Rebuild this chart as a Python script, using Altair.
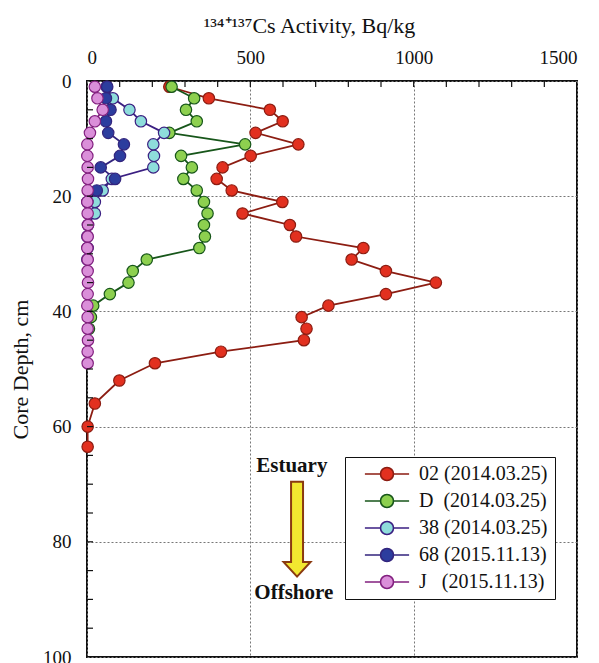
import altair as alt
import pandas as pd

# ---------------- data ----------------
series_names = ["02 (2014.03.25)", "D\u00a0\u00a0(2014.03.25)", "38 (2014.03.25)",
                "68 (2015.11.13)", "J\u00a0\u00a0\u00a0(2015.11.13)"]

depth_02 = [1, 3, 5, 7, 9, 11, 13, 15, 17, 19, 21, 23, 25, 27, 29, 31, 33, 35, 37, 39,
            41, 43, 45, 47, 49, 52, 56, 60, 63.5]
act_02 = [252, 373, 560, 599, 516, 647, 501, 415, 397, 443, 598, 476, 621, 640, 846, 810,
          915, 1068, 915, 739, 657, 672, 664, 410, 208, 99, 24, 2, 2]

depth_D = [1, 3, 5, 7, 9, 11, 13, 15, 17, 19, 21, 23, 25, 27, 29, 31, 33, 35, 37, 39, 41, 43]
act_D = [259, 328, 303, 336, 252, 484, 288, 321, 295, 336, 358, 369, 358, 361, 344, 183,
         140, 127, 70, 19, 12, 6]

depth_38 = [1, 3, 5, 7, 9, 11, 13, 15, 17, 19, 21, 23, 25, 27, 29, 31]
act_38 = [60, 79, 130, 165, 236, 203, 205, 203, 76, 48, 24, 24, 3, 1, 2, 1]

depth_68 = [1, 3, 5, 7, 9, 11, 13, 15, 17, 19, 21]
act_68 = [62, 58, 72, 58, 65, 113, 101, 42, 86, 30, 1]

depth_J = [1, 3, 5, 7, 9, 11, 13, 15, 17, 19, 21, 23, 25, 27, 29, 31, 33, 35, 37, 39, 41,
           43, 45, 47, 49]
act_J = [24, 32, 48, 24, 9, 1, 1, 2, 3, 2, 1, 2, 3, 2, 1, 2, 2, 3, 2, 1, 2, 2, 3, 2, 2]

fill_colors = ["#E2301F", "#8DD04F", "#8EDDDB", "#2C3D9E", "#DA8FD9"]
line_colors = ["#8C1D12", "#17561A", "#3B1F82", "#33257E", "#82207F"]

x_ticks = [100, 200, 300, 400, 500, 600, 700, 800, 900, 1000, 1100, 1200, 1300, 1400]
y_ticks = [5, 10, 15, 20, 25, 30, 35, 40, 45, 50, 55, 60, 65, 70, 75, 80, 85, 90, 95]
x_labels = [0, 500, 1000, 1500]
y_labels = [0, 20, 40, 60, 80, 100]

notes_text = ["Estuary", "Offshore"]
notes_x = [627, 633]
notes_y = [66.8, 88.9]
arrow_x = [643]
arrow_y = [77.8]

# ---------------- tables ----------------
rows = []
for name, ds, vs in zip(series_names,
                        [depth_02, depth_D, depth_38, depth_68, depth_J],
                        [act_02, act_D, act_38, act_68, act_J]):
    for d, v in zip(ds, vs):
        rows.append({"series": name, "depth": d, "act": v})
df = pd.DataFrame(rows)

FONT = "Liberation Serif"
XS = alt.Scale(domain=[0, 1500], nice=False, zero=False)
YS = alt.Scale(domain=[0, 100], reverse=True, nice=False, zero=False)

leg_path = "M-3.4,0L-1,0M1,0L3.4,0M1,0A1,1,0,1,1,-1,0A1,1,0,1,1,1,0Z"
legend = alt.Legend(
    title=None, orient="none", legendX=258, legendY=376,
    symbolType=leg_path, symbolSize=169, symbolStrokeWidth=1.6,
    symbolOffset=25, labelOffset=22,
    labelFont=FONT, labelFontSize=20, labelColor="#111", labelLimit=300,
    labelExpr="datum.label + '\u00a0\u00a0\u00a0\u00a0'",
    strokeColor="#111", fillColor="white", padding=7, rowPadding=7,
)

fill_scale = alt.Scale(domain=series_names, range=fill_colors)
stroke_scale = alt.Scale(domain=series_names, range=line_colors)

x_enc = alt.X("act:Q", scale=XS, axis=alt.Axis(
    orient="top", values=x_labels, format="d", title="¹³⁴⁺¹³⁷Cs Activity, Bq/kg",
    titleX=222, titleAlign="center",
    grid=True, gridDash=[2, 2], gridColor="#777", gridWidth=1,
    ticks=False, tickSize=0, domain=False, labelPadding=14, titlePadding=11))
y_enc = alt.Y("depth:Q", scale=YS, axis=alt.Axis(
    values=y_labels, format="d", title="Core Depth, cm",
    grid=True, gridDash=[2, 2], gridColor="#777", gridWidth=1,
    ticks=False, tickSize=0, domain=False, labelPadding=16, titlePadding=10))

lines = alt.Chart(df).mark_line(strokeWidth=1.8).encode(
    x=x_enc, y=y_enc,
    stroke=alt.Stroke("series:N", scale=stroke_scale, legend=legend),
    order="depth:Q",
    detail="series:N",
)
points = alt.Chart(df).mark_point(shape="circle", filled=True, size=130,
                                  strokeWidth=1.2, opacity=1).encode(
    x=alt.X("act:Q", scale=XS),
    y=alt.Y("depth:Q", scale=YS),
    fill=alt.Fill("series:N", scale=fill_scale, legend=legend),
    stroke=alt.Stroke("series:N", scale=stroke_scale, legend=legend),
)

xt = alt.Chart(pd.DataFrame({"t": x_ticks})).mark_rule(color="#111", strokeWidth=1.2).encode(
    x=alt.X("t:Q", scale=XS), y=alt.value(0), y2=alt.value(6))
yt = alt.Chart(pd.DataFrame({"t": y_ticks})).mark_rule(color="#111", strokeWidth=1.2).encode(
    y=alt.Y("t:Q", scale=YS), x=alt.value(0), x2=alt.value(6))

notes = alt.Chart(pd.DataFrame({"t": notes_text, "x": notes_x, "y": notes_y})).mark_text(
    font=FONT, fontSize=21, fontWeight="bold", color="#111").encode(
    x=alt.X("x:Q", scale=XS), y=alt.Y("y:Q", scale=YS), text="t:N")

arrow_path = "M-0.126,-1L0.126,-1L0.126,0.69L0.284,0.69L0,1L-0.284,0.69L-0.126,0.69Z"
arrow = alt.Chart(pd.DataFrame({"x": arrow_x, "y": arrow_y})).mark_point(
    shape=arrow_path, size=9025, filled=True, fill="#F2E830", stroke="#8A3A10",
    strokeWidth=2, opacity=1).encode(
    x=alt.X("x:Q", scale=XS), y=alt.Y("y:Q", scale=YS))

chart = alt.layer(lines, points, xt, yt, notes, arrow).properties(
    width=490, height=576,
    autosize=alt.AutoSizeParams(type="none"),
    padding={"left": 87, "top": 81, "right": 22, "bottom": 6},
).configure_view(stroke="#111", strokeWidth=2).configure_axis(
    labelFont=FONT, labelFontSize=19, labelColor="#111",
    titleFont=FONT, titleFontSize=22, titleFontWeight="normal", titleColor="#111",
)

chart.save("out.html", embed_options={"renderer": "svg", "actions": False})
